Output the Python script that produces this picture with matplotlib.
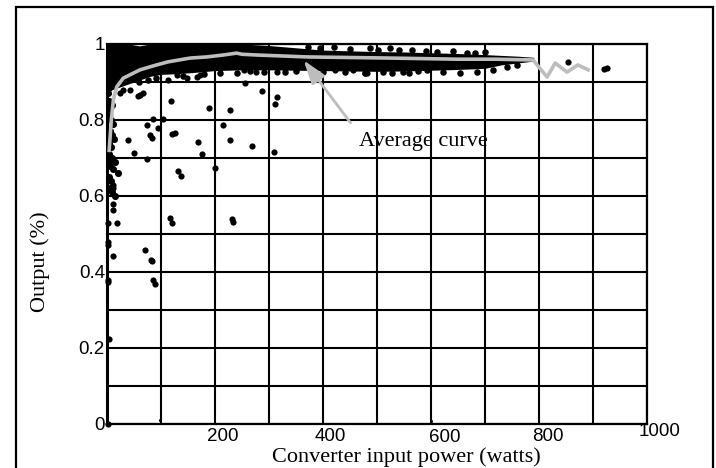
import matplotlib
matplotlib.use("Agg")
import matplotlib.pyplot as plt
import matplotlib.transforms as mtransforms
from matplotlib.patches import Rectangle

# ---------------- data ----------------
# dense band of measurements (lower / upper edges of the solid black cloud)
band_x = [0, 10, 20, 40, 60, 80, 100, 130, 160, 200, 250, 300, 350, 400,
          450, 500, 550, 600, 650, 700, 730, 760, 790]
band_top = [1.0, 1.0, 1.0, 1.0, 0.995, 1.0, 1.0, 1.0, 1.0, 1.0, 1.0, 0.996,
            0.99, 0.984, 0.982, 0.98, 0.979, 0.977, 0.975, 0.972, 0.97, 0.968, 0.965]
band_bottom = [0.87, 0.88, 0.885, 0.895, 0.905, 0.915, 0.92, 0.922, 0.925, 0.93,
               0.932, 0.932, 0.931, 0.93, 0.929, 0.928, 0.929, 0.931, 0.933, 0.936,
               0.945, 0.95, 0.955]

# ragged edge points of the band
edge_x = [487, 502, 524, 611, 667, 681, 372, 395, 420, 450, 540, 565, 590, 640, 700,
          478, 511, 528, 548, 593, 622, 654, 685, 715, 740, 760,
          60, 75, 90, 140, 180, 210, 240, 265, 290, 330, 350, 380, 400, 440, 560, 575]
edge_y = [0.989, 0.984, 0.989, 0.979, 0.976, 0.976, 0.992, 0.99, 0.993, 0.988, 0.985,
          0.984, 0.982, 0.981, 0.978,
          0.923, 0.926, 0.923, 0.926, 0.932, 0.926, 0.923, 0.926, 0.932, 0.94, 0.945,
          0.90, 0.905, 0.91, 0.915, 0.92, 0.925, 0.925, 0.928, 0.926, 0.927, 0.928,
          0.925, 0.927, 0.926, 0.925, 0.928]

# scattered individual measurements
pts_x = [254, 276, 256, 287, 314, 311, 119, 189, 228, 215, 228, 269, 309, 168, 176,
         200, 131, 137, 120, 126, 74, 80, 83, 94, 85, 104, 39, 50, 74, 57, 62, 66,
         43, 113, 130, 148, 167, 172, 11, 11, 11, 11, 2, 18, 2, 2, 11, 2, 2, 4, 2,
         70, 81, 83, 85, 89, 117, 120, 231, 233, 315, 422, 455, 478, 481, 854, 920,
         926, 24, 30]
pts_y = [0.932, 0.926, 0.897, 0.877, 0.861, 0.842, 0.85, 0.831, 0.826, 0.787, 0.747,
         0.732, 0.716, 0.742, 0.711, 0.673, 0.666, 0.653, 0.763, 0.765, 0.787, 0.76,
         0.752, 0.779, 0.803, 0.803, 0.747, 0.713, 0.697, 0.862, 0.866, 0.87, 0.879,
         0.905, 0.918, 0.91, 0.913, 0.918, 0.62, 0.63, 0.58, 0.563, 0.528, 0.528,
         0.478, 0.471, 0.442, 0.379, 0.374, 0.224, 0.0, 0.458, 0.432, 0.43, 0.379,
         0.368, 0.542, 0.528, 0.539, 0.532, 0.926, 0.932, 0.932, 0.923, 0.923, 0.953,
         0.934, 0.936, 0.87, 0.88]

# dense column of points at very low input power
col_x = [2, 4, 6, 9, 3, 7, 12, 5, 10, 3, 8, 13, 4, 9, 2, 6, 11, 15, 3, 8, 5, 10, 14, 20]
col_y = [0.87, 0.85, 0.83, 0.84, 0.81, 0.80, 0.79, 0.77, 0.76, 0.74, 0.73, 0.75,
         0.71, 0.70, 0.69, 0.68, 0.67, 0.69, 0.65, 0.64, 0.62, 0.61, 0.60, 0.66]

# tiny marks on the x axis
tiny_x = [98, 600]
tiny_y = [0.01, 0.008]

# average curve
avg_x = [4, 8, 12, 18, 30, 61, 92, 113, 154, 185, 215, 240, 250, 278, 370, 524,
         650, 720, 789, 815, 830, 852, 872, 891]
avg_y = [0.72, 0.80, 0.855, 0.887, 0.91, 0.932, 0.945, 0.953, 0.963, 0.966, 0.971,
         0.976, 0.973, 0.971, 0.966, 0.963, 0.96, 0.96, 0.958, 0.913, 0.95, 0.926,
         0.945, 0.932]

x_ticks = [0, 100, 200, 300, 400, 500, 600, 700, 800, 900, 1000]
x_labels = ["", "", "200", "", "400", "", "600", "", "800", "", "1000"]
y_ticks = [0, 0.1, 0.2, 0.3, 0.4, 0.5, 0.6, 0.7, 0.8, 0.9, 1.0]
y_labels = ["0", "", "0.2", "", "0.4", "", "0.6", "", "0.8", "", "1"]

# ---------------- drawing ----------------
fig = plt.figure(figsize=(7.16, 4.68), dpi=100)
ax = fig.add_axes([107 / 716, 44 / 468, 540 / 716, 380 / 468])

ax.set_xlim(0, 1000)
ax.set_ylim(0, 1)
ax.set_xticks(x_ticks)
ax.set_xticklabels(x_labels, fontfamily="Liberation Sans", fontsize=13.5)
ax.set_yticks(y_ticks)
ax.set_yticklabels(y_labels, fontfamily="Liberation Sans", fontsize=13.5)
ax.tick_params(length=0, pad=3)
ax.tick_params(axis="y", pad=1.5)
ax.grid(True, color="black", linewidth=1.5, zorder=0)
ax.set_axisbelow(True)
for s in ax.spines.values():
    s.set_linewidth(1.6)
ax.spines["left"].set_linewidth(2.2)

ax.fill_between(band_x, band_bottom, band_top, color="black", lw=0, zorder=2)
ax.scatter(edge_x, edge_y, s=22, color="black", lw=0, zorder=3)
ax.scatter(pts_x, pts_y, s=20, color="black", lw=0, zorder=3, clip_on=False)
ax.scatter(col_x, col_y, s=26, color="black", lw=0, zorder=3)
ax.scatter(tiny_x, tiny_y, s=5, color="black", lw=0, zorder=3)

ax.plot(avg_x, avg_y, color="#bdbdbd", lw=2.6, zorder=4, solid_joinstyle="round")

ax.annotate("", xy=(361, 0.963), xytext=(454, 0.787),
            arrowprops=dict(arrowstyle="-|>,head_length=0.9,head_width=0.3",
                            mutation_scale=16, color="#bdbdbd", lw=2),
            zorder=5)
ax.text(585, 0.732, "Average curve", ha="center", va="baseline",
        fontfamily="Liberation Serif", fontsize=16, zorder=6)

ax.set_xlabel("Converter input power (watts)", fontfamily="Liberation Serif",
              fontsize=16)
ax.xaxis.set_label_coords(0.554, -0.06)
ax.set_ylabel("Output (%)", fontfamily="Liberation Serif", fontsize=16)
ax.yaxis.set_label_coords(-0.105, 0.426)

# shift tick labels like in the reference
offs = {"200": (8, 0), "400": (7, 0), "600": (14, -1), "800": (9, 0), "1000": (13, 5)}
fig.canvas.draw()
for lab in ax.get_xticklabels():
    t = lab.get_text()
    if t in offs:
        dx, dy = offs[t]
        lab.set_transform(lab.get_transform() +
                          mtransforms.ScaledTranslation(dx / 100, dy / 100, fig.dpi_scale_trans))

fig.add_artist(Rectangle((16 / 716, -0.02), (713 - 16) / 716, 1.02 - 7 / 468,
                         transform=fig.transFigure, fill=False, lw=1.6,
                         edgecolor="black", clip_on=False))

fig.savefig("out.png", dpi=100)
